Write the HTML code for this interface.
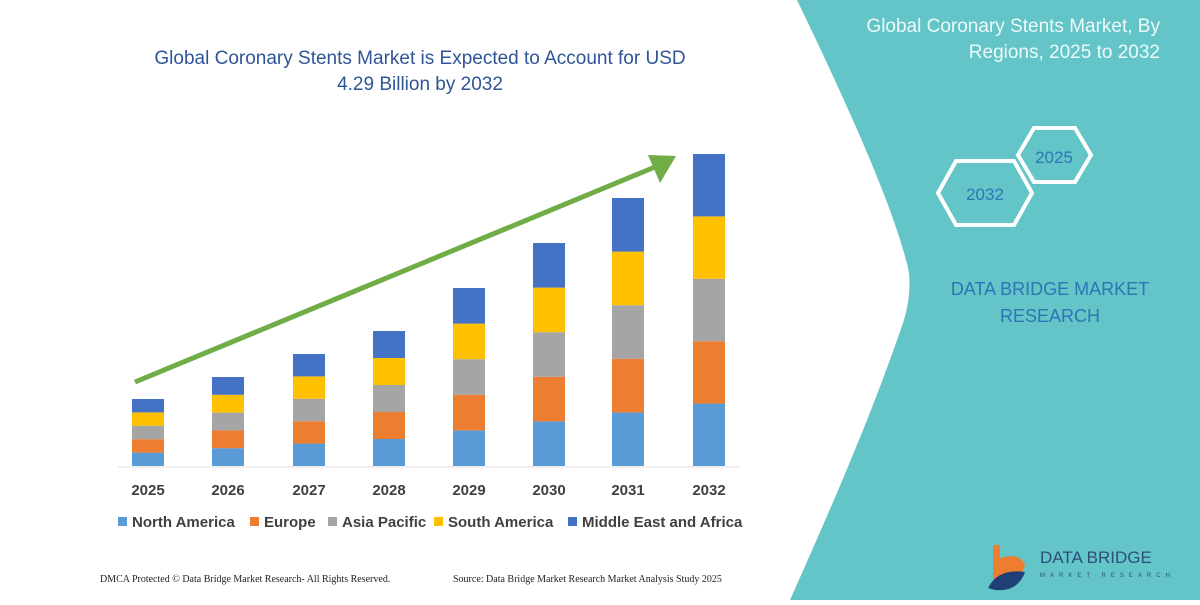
<!DOCTYPE html>
<html><head><meta charset="utf-8"><style>
body{margin:0;width:1200px;height:600px;overflow:hidden;background:#fff;font-family:"Liberation Sans",sans-serif}
</style></head><body>
<svg width="1200" height="600" xmlns="http://www.w3.org/2000/svg">
<rect width="1200" height="600" fill="#fff"/>
<path d="M797,0 C850,110 890,200 906,260 Q914,285 904,320 C870,420 830,510 790,600 L1200,600 L1200,0 Z" fill="#63c5c8"/>
<g font-family="Liberation Sans, sans-serif">
<text x="420" y="64" text-anchor="middle" font-size="19" fill="#2f5597">Global Coronary Stents Market is Expected to Account for USD</text>
<text x="420" y="90" text-anchor="middle" font-size="19" fill="#2f5597">4.29 Billion by 2032</text>
<text x="1160" y="32" text-anchor="end" font-size="19" fill="#eef9f9">Global Coronary Stents Market, By</text>
<text x="1160" y="58" text-anchor="end" font-size="19" fill="#eef9f9">Regions, 2025 to 2032</text>
</g>
<g fill="none" stroke="#fff" stroke-width="4">
<polygon points="938,193 956,161 1014,161 1032,193 1014,225 956,225"/>
<polygon points="1018,155 1034,128 1075,128 1091,155 1075,182 1034,182"/>
</g>
<text x="985" y="200" text-anchor="middle" font-size="17" fill="#2e75b6" font-family="Liberation Sans, sans-serif">2032</text>
<text x="1054" y="163" text-anchor="middle" font-size="17" fill="#2e75b6" font-family="Liberation Sans, sans-serif">2025</text>
<text x="1050" y="295" text-anchor="middle" font-size="18" fill="#2e75b6" font-family="Liberation Sans, sans-serif">DATA BRIDGE MARKET</text>
<text x="1050" y="322" text-anchor="middle" font-size="18" fill="#2e75b6" font-family="Liberation Sans, sans-serif">RESEARCH</text>
<g id="bars"></g>
<line x1="118" y1="467" x2="740" y2="467" stroke="#e0e0e0" stroke-width="1"/>
<line x1="135" y1="382" x2="655" y2="167" stroke="#70ad47" stroke-width="5"/>
<polygon points="676,156 648,155 660,183" fill="#70ad47"/>
<g font-size="15" font-weight="bold" fill="#404040" text-anchor="middle" font-family="Liberation Sans, sans-serif" id="yl"></g>
<g font-size="15" fill="#404040" font-family="Liberation Sans, sans-serif" font-weight="bold">
<rect x="118" y="517" width="9" height="9" fill="#5b9bd5"/><text x="132" y="527">North America</text>
<rect x="250" y="517" width="9" height="9" fill="#ed7d31"/><text x="264" y="527">Europe</text>
<rect x="328" y="517" width="9" height="9" fill="#a5a5a5"/><text x="342" y="527">Asia Pacific</text>
<rect x="434" y="517" width="9" height="9" fill="#ffc000"/><text x="448" y="527">South America</text>
<rect x="568" y="517" width="9" height="9" fill="#4472c4"/><text x="582" y="527">Middle East and Africa</text>
</g>
<g font-size="10" fill="#222" font-family="Liberation Serif, serif">
<text x="100" y="582">DMCA Protected © Data Bridge Market Research-  All Rights Reserved.</text>
<text x="453" y="582">Source: Data Bridge Market Research  Market Analysis Study 2025</text>
</g>
<path d="M993,545 L1000,545 L1000,558 Q1020,552 1025,565 Q1022,580 1000,582 L993,582 Z" fill="#ed7d31"/>
<path d="M988,588 Q998,568 1025,572 Q1018,592 995,590 Z" fill="#1f3f77"/>
<text x="1040" y="563" font-size="17" fill="#2e4e7a" font-family="Liberation Sans, sans-serif">DATA BRIDGE</text>
<text x="1040" y="577" font-size="6" fill="#2e4e7a" letter-spacing="5" font-family="Liberation Sans, sans-serif">MARKET RESEARCH</text>
</svg>
<script>
var ns="http://www.w3.org/2000/svg";
var xs=[132,212,293,373,453,533,612,693],tops=[399,377,354,331,288,243,198,154],yrs=[2025,2026,2027,2028,2029,2030,2031,2032];
var cols=["#5b9bd5","#ed7d31","#a5a5a5","#ffc000","#4472c4"];
var g=document.getElementById("bars"),yl=document.getElementById("yl");
for(var i=0;i<8;i++){var base=466,h=(base-tops[i])/5;
for(var k=0;k<5;k++){var r=document.createElementNS(ns,"rect");r.setAttribute("x",xs[i]);r.setAttribute("width",32);
r.setAttribute("y",base-h*(k+1));r.setAttribute("height",h);r.setAttribute("fill",cols[k]);g.appendChild(r);}
var t=document.createElementNS(ns,"text");t.setAttribute("x",xs[i]+16);t.setAttribute("y",495);t.textContent=yrs[i];yl.appendChild(t);}
</script>
</body></html>
